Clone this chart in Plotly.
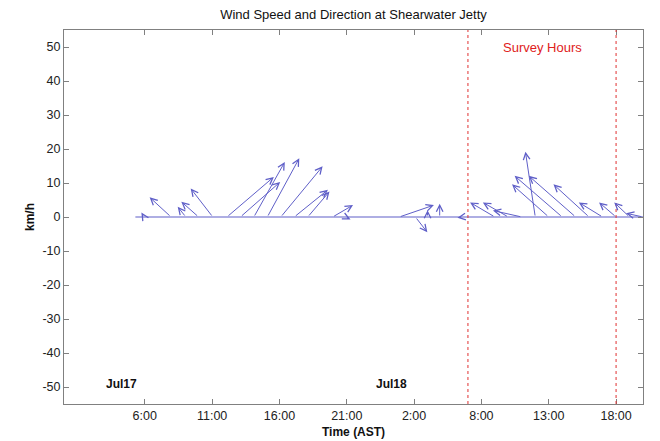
import plotly.graph_objects as go

# ---- data ----
# start time of each sample, hours after Jul17 00:00 (axis units)
times = [5.3, 5.95, 7.95, 9.05, 10.0, 11.05, 12.1, 13.1, 14.1, 15.1, 16.1, 17.1, 18.1,
         19.95, 20.9, 22.9, 24.9, 26.1, 27.0, 27.9, 29.6, 31.0,
         32.0, 33.0, 34.0, 35.0, 36.0, 37.0, 38.0, 39.0, 40.0, 41.0, 42.0, 43.0]
# east-west component (km/h)
u_kmh = [0.0, -0.8, -6.3, -2.4, -5.1, -6.5, 13.8, 11.7, 9.1, 9.4, 12.3, 9.9, 6.4,
         6.0, 1.5, -1.0, 10.2, 3.5, 0.0, 0.0, -1.5, 0.8,
         -7.3, -7.5, -8.5, -2.9, -10.8, -14.0, -13.8, -10.5, -7.0, -5.0, -4.5, -5.0]
# north-south component (km/h)
v_kmh = [0.0, 1.3, 5.8, 3.0, 4.5, 8.4, 11.8, 10.3, 16.2, 17.3, 14.9, 8.0, 7.5,
         3.5, -0.7, -0.9, 3.5, -4.5, 2.0, 3.9, -0.2, -1.0,
         4.3, 4.3, 1.9, 19.2, 9.6, 12.1, 12.1, 9.6, 4.3, 4.3, 4.3, 1.1]

tick_vals = [6, 11, 16, 21, 26, 31, 36, 41]
tick_text = ["6:00", "11:00", "16:00", "21:00", "2:00", "8:00", "13:00", "18:00"]
y_ticks = list(range(-50, 51, 10))
y_tick_text = [str(v) for v in y_ticks]
survey_bounds = [30.0, 41.0]
day_labels = ["Jul17", "Jul18"]
day_label_x = [3.0, 23.0]

x_range = [0, 43]
y_range = [-55, 55]

# the page body has an 8px default margin, so the figure is sized to fit
W, H = 652, 433
margin = dict(l=56, r=17, t=22, b=37)
plot_w = W - margin["l"] - margin["r"]
plot_h = H - margin["t"] - margin["b"]
# feather plot: vectors drawn with equal pixel scale in x and y
px_per_kmh = plot_h / (y_range[1] - y_range[0])
px_per_hour = plot_w / (x_range[1] - x_range[0])
k = px_per_kmh / px_per_hour

ARROW = "#5f5fc8"
FONT = "Liberation Sans, Arial, Helvetica, sans-serif"

fig = go.Figure()
fig.add_trace(go.Scatter(x=[min(times), max(times)], y=[0, 0], mode="lines",
                         line=dict(color=ARROW, width=1.2), hoverinfo="skip",
                         showlegend=False))

annotations = []
for t, u, v in zip(times, u_kmh, v_kmh):
    if u == 0 and v == 0:
        continue
    annotations.append(dict(x=t + u * k, y=v, ax=t, ay=0, xref="x", yref="y",
                            axref="x", ayref="y", text="", showarrow=True,
                            arrowhead=5, arrowsize=1.3, arrowwidth=1,
                            arrowcolor=ARROW, standoff=0, startstandoff=0))

for xb in survey_bounds:
    fig.add_shape(type="line", x0=xb, x1=xb, y0=0, y1=1, xref="x", yref="paper",
                  line=dict(color="#e03030", width=1, dash="dot"))

annotations.append(dict(x=35.5, y=50, xref="x", yref="y", text="Survey Hours",
                        showarrow=False, font=dict(color="#e02020", size=13, family=FONT)))
for lbl, lx in zip(day_labels, day_label_x):
    annotations.append(dict(x=lx, y=-49, xref="x", yref="y", text="<b>%s</b>" % lbl,
                            showarrow=False, xanchor="left",
                            font=dict(color="#111", size=12, family=FONT)))
annotations.append(dict(x=-34.0 / plot_w, y=0.5, xref="paper", yref="paper",
                        text="<b>km/h</b>", textangle=-90, showarrow=False,
                        xanchor="center", yanchor="middle",
                        font=dict(color="#111", size=12, family=FONT)))
annotations.append(dict(x=0.5, y=-28.0 / plot_h, xref="paper", yref="paper",
                        text="<b>Time (AST)</b>", showarrow=False,
                        xanchor="center", yanchor="middle",
                        font=dict(color="#111", size=12, family=FONT)))

axis_common = dict(showline=True, linecolor="#808080", linewidth=1, mirror="ticks",
                   ticks="inside", ticklen=5, tickcolor="#808080", showgrid=False,
                   zeroline=False, tickfont=dict(size=12.5, color="#222", family=FONT))

fig.update_layout(
    width=W, height=H, margin=margin,
    paper_bgcolor="white", plot_bgcolor="white",
    title=dict(text="Wind Speed and Direction at Shearwater Jetty",
               x=(margin["l"] + plot_w / 2) / W, y=1 - 6.0 / H,
               xanchor="center", yanchor="middle",
               font=dict(size=13, color="#111", family=FONT)),
    xaxis=dict(range=x_range, tickvals=tick_vals, ticktext=tick_text, **axis_common),
    yaxis=dict(range=y_range, tickvals=y_ticks, ticktext=y_tick_text, **axis_common),
    annotations=annotations,
    showlegend=False,
)

fig.write_html("out.html")
